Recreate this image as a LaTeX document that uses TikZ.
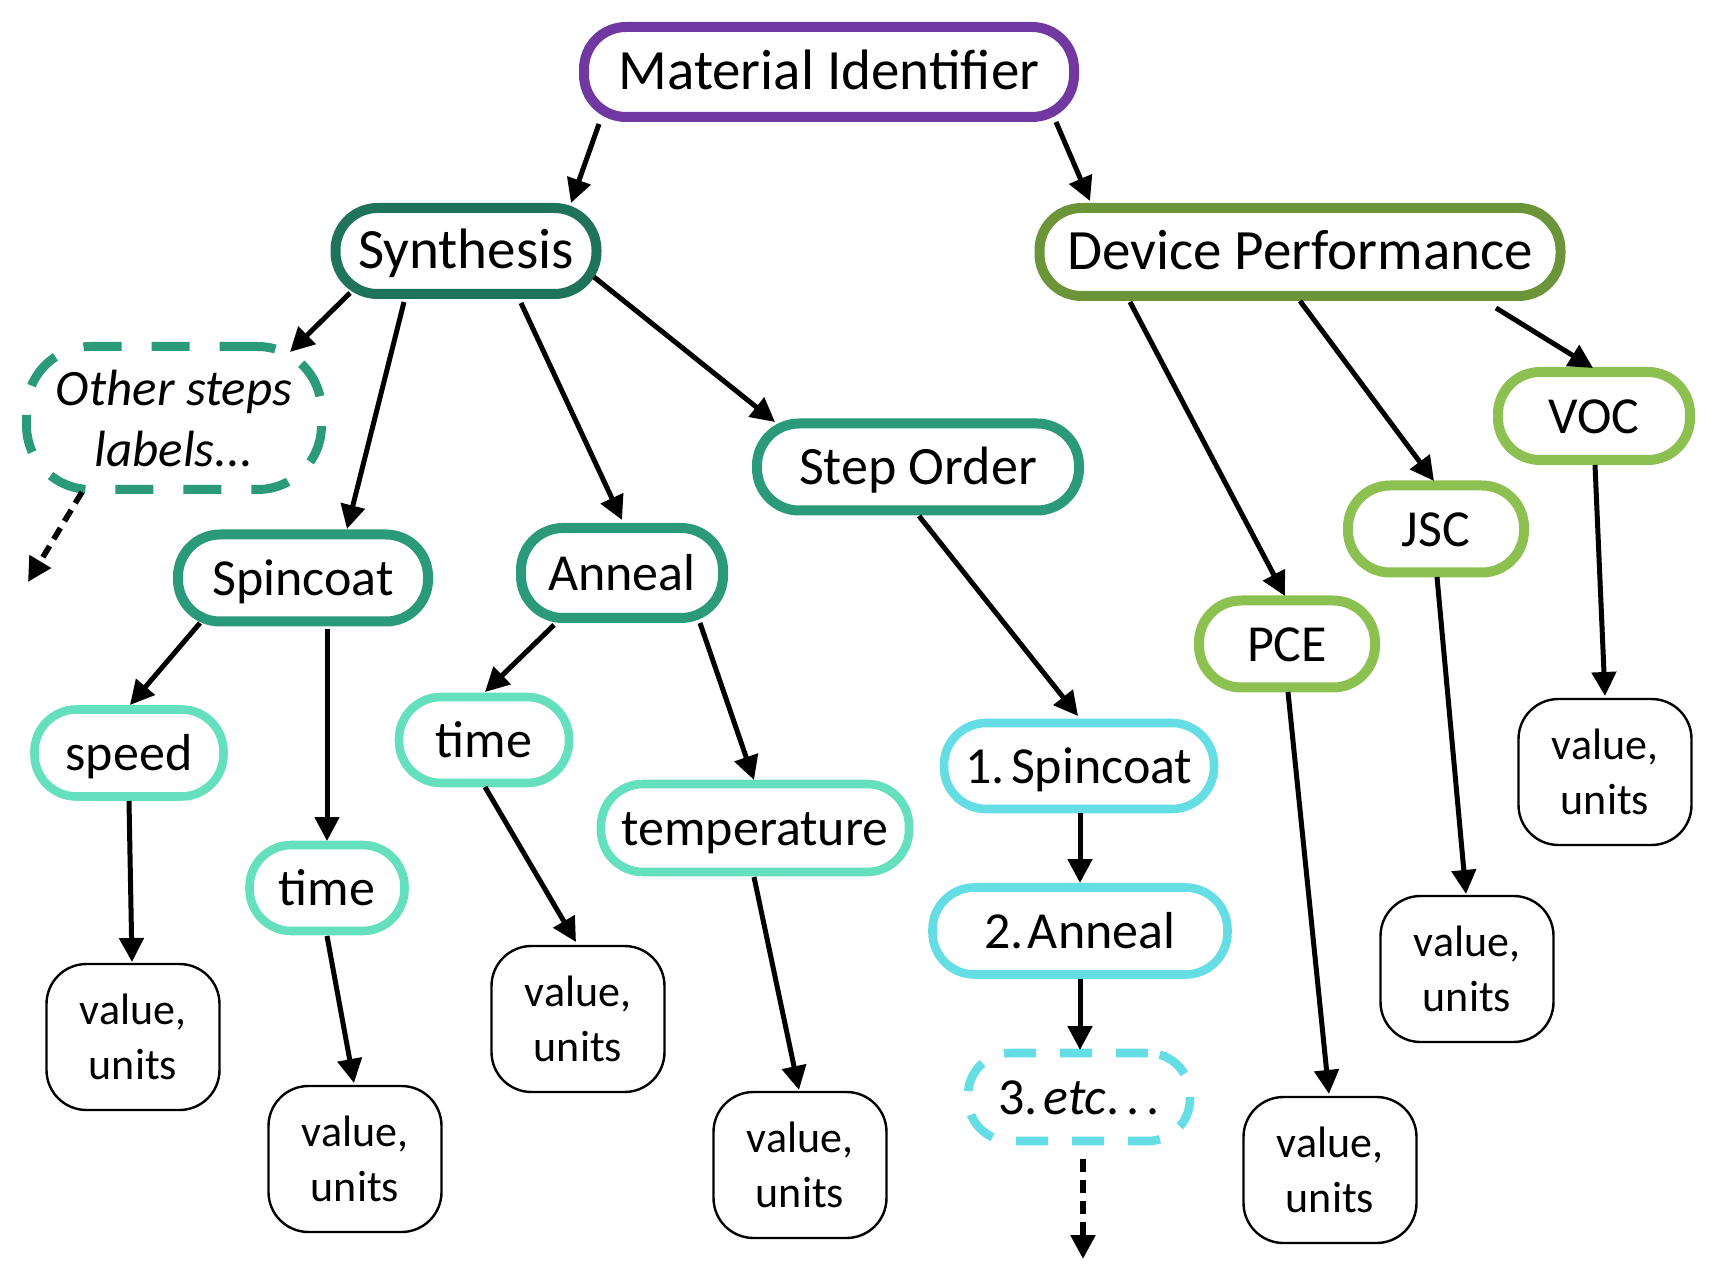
\documentclass[tikz,border=0pt]{standalone}
\usepackage{fontspec}
\setmainfont{Carlito}
\usetikzlibrary{arrows.meta}
\definecolor{cPurple}{RGB}{112,56,160}
\definecolor{cDark}{RGB}{31,115,90}
\definecolor{cTeal}{RGB}{42,154,122}
\definecolor{cMint}{RGB}{100,224,190}
\definecolor{cCyan}{RGB}{100,221,229}
\definecolor{cOlive}{RGB}{108,148,56}
\definecolor{cLime}{RGB}{140,192,80}
\begin{document}
\begin{tikzpicture}[x=0.5pt,y=-0.5pt,
  pillbase/.style={draw, line width=5pt, rounded corners=21pt, fill=white, inner sep=0pt},
  pill/.style={pillbase, text height=17.5pt, text depth=0pt},
  big/.style={pill, font=\fontsize{28.5}{33}\selectfont},
  lab/.style={pill, font=\fontsize{26}{31}\selectfont},
  thinpill/.style={lab, line width=4.3pt},
  dashpill/.style={dash pattern=on 16pt off 12pt},
  valbox/.style={draw, line width=1.2pt, rounded corners=20pt, fill=white, inner sep=0pt, align=center,
    minimum width=86.5pt, minimum height=73pt, font=\fontsize{22}{27.5}\selectfont},
  arr/.style={line width=2.5pt, -{Triangle[length=12pt,width=12pt]}},
  darr/.style={arr, line width=2.8pt, dash pattern=on 6.5pt off 4pt},
]
\useasboundingbox (0,0) rectangle (1714,1288);

% top level
\node[big, draw=cPurple, minimum width=245pt, minimum height=45pt] (mi) at (829,72) {Material Identifier};
\node[big, draw=cDark, minimum width=130.5pt, minimum height=43pt] (syn) at (466,251) {Synthesis};
\node[big, draw=cOlive, minimum width=260.5pt, minimum height=44pt] (dp) at (1300,252) {Device Performance};

% synthesis branch
\node[pillbase, draw=cTeal, dash pattern=on 19pt off 15pt, line width=4.5pt, rounded corners=32pt, minimum width=147.5pt, minimum height=71.5pt,
  align=center, font=\fontsize{25.5}{30.5}\selectfont\itshape] (oth) at (174,418) {Other steps\\labels...};
\node[lab, draw=cTeal, minimum width=125pt, minimum height=43.5pt] (spc) at (303,578) {Spincoat};
\node[lab, draw=cTeal, minimum width=101pt, minimum height=45pt] (ann) at (622,573) {Anneal};
\node[lab, draw=cTeal, minimum width=161pt, minimum height=43.5pt, font=\fontsize{27}{31}\selectfont] (so) at (918,467) {Step Order};

\node[thinpill, draw=cMint, minimum width=94.5pt, minimum height=43.5pt] (spd) at (129,753) {speed};
\node[thinpill, draw=cMint, minimum width=77.5pt, minimum height=43pt] (tm1) at (327,888) {time};
\node[thinpill, draw=cMint, minimum width=85pt, minimum height=43pt] (tm2) at (484,740) {time};
\node[thinpill, draw=cMint, minimum width=154pt, minimum height=44pt] (tmp) at (755,828) {temperature};

\node[thinpill, draw=cCyan, minimum width=135pt, minimum height=43pt] (s1) at (1079,766) {1.\kern3pt Spincoat};
\node[thinpill, draw=cCyan, minimum width=147.5pt, minimum height=43.5pt] (s2) at (1080,931) {2.\kern2pt Anneal};
\node[thinpill, draw=cCyan, dashpill, minimum width=111pt, minimum height=44pt] (s3) at (1079,1097) {3.\kern3pt \textit{etc}.\kern3.5pt.\kern3.5pt.};

% device performance branch
\node[lab, draw=cLime, minimum width=88pt, minimum height=43.5pt] (pce) at (1287,644) {PCE};
\node[lab, draw=cLime, minimum width=88pt, minimum height=43.5pt] (jsc) at (1436,529) {JSC};
\node[lab, draw=cLime, minimum width=96pt, minimum height=44pt] (voc) at (1594,416) {VOC};

% value boxes
\node[valbox] (vspd) at (133,1037) {value,\\units};
\node[valbox] (vtm1) at (355,1159) {value,\\units};
\node[valbox] (vtm2) at (578,1019) {value,\\units};
\node[valbox] (vtmp) at (800,1165) {value,\\units};
\node[valbox] (vpce) at (1330,1170) {value,\\units};
\node[valbox] (vjsc) at (1467,969) {value,\\units};
\node[valbox] (vvoc) at (1605,772) {value,\\units};

\coordinate (e1) at (28,582);
\coordinate (e2) at (1083,1259);

% connectors
\draw[arr] ([shift={(-230,52)}]mi.center) -- ([shift={(105,-48)}]syn.center);
\draw[arr] ([shift={(227,50)}]mi.center) -- ([shift={(-210,-51)}]dp.center);

\draw[arr] ([shift={(-116,42)}]syn.center) -- ([shift={(116,-66)}]oth.center);
\draw[arr] ([shift={(-62,51)}]syn.center) -- ([shift={(44,-49)}]spc.center);
\draw[arr] ([shift={(55,52)}]syn.center) -- ([shift={(0,-53)}]ann.center);
\draw[arr] ([shift={(128,26)}]syn.center) -- ([shift={(-143,-45)}]so.center);
\draw[darr] ([shift={(-92,74)}]oth.center) -- (e1);

\draw[arr] ([shift={(-103,45)}]spc.center) -- ([shift={(1,-48)}]spd.center);
\draw[arr] ([shift={(24,51)}]spc.center) -- ([shift={(0,-47)}]tm1.center);
\draw[arr] ([shift={(-68,52)}]ann.center) -- ([shift={(1,-48)}]tm2.center);
\draw[arr] ([shift={(78,50)}]ann.center) -- ([shift={(-1,-48)}]tmp.center);

\draw[arr] ([shift={(1,49)}]so.center) -- ([shift={(-1,-50)}]s1.center);
\draw[arr] ([shift={(1,47)}]s1.center) -- ([shift={(0,-48)}]s2.center);
\draw[arr] ([shift={(0,48)}]s2.center) -- ([shift={(1,-47)}]s3.center);
\draw[darr] ([shift={(4,62)}]s3.center) -- (e2);

\draw[arr] ([shift={(0,48)}]spd.center) -- ([shift={(-1,-75)}]vspd.center);
\draw[arr] ([shift={(0,48)}]tm1.center) -- ([shift={(-1,-76)}]vtm1.center);
\draw[arr] ([shift={(1,47)}]tm2.center) -- ([shift={(-2,-77)}]vtm2.center);
\draw[arr] ([shift={(-1,49)}]tmp.center) -- ([shift={(-1,-75)}]vtmp.center);

\draw[arr] ([shift={(-170,50)}]dp.center) -- ([shift={(-2,-48)}]pce.center);
\draw[arr] ([shift={(0,49)}]dp.center) -- ([shift={(-2,-48)}]jsc.center);
\draw[arr] ([shift={(196,56)}]dp.center) -- ([shift={(-1,-48)}]voc.center);

\draw[arr] ([shift={(1,48)}]pce.center) -- ([shift={(-1,-76)}]vpce.center);
\draw[arr] ([shift={(1,48)}]jsc.center) -- ([shift={(-1,-75)}]vjsc.center);
\draw[arr] ([shift={(1,49)}]voc.center) -- ([shift={(0,-76)}]vvoc.center);
\end{tikzpicture}
\end{document}
